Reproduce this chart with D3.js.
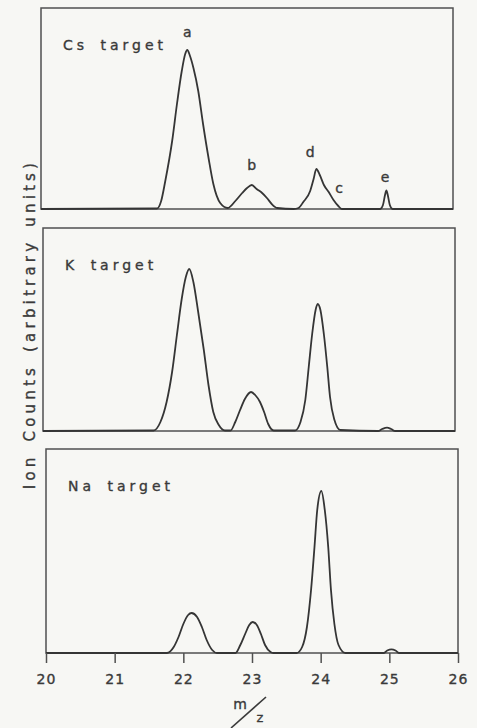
<!DOCTYPE html>
<html>
<head>
<meta charset="utf-8">
<script src="https://cdn.jsdelivr.net/npm/d3@7"></script>
<style>
  html, body { margin: 0; padding: 0; background: #f7f7f4; }
  svg { display: block; }
  .box { fill: none; stroke: #505050; stroke-width: 1.5; }
  .trace { fill: none; stroke: #353535; stroke-width: 1.8; stroke-linejoin: round; }
  text { font-family: "DejaVu Sans", sans-serif; fill: #3a3a3a; stroke: #3a3a3a; stroke-width: 0.35; }
  .axis line { stroke: #505050; stroke-width: 1.5; }
</style>
</head>
<body>
<div id="chart"></div>
<script>
// tick values on the m/z axis
const tickValues = [20, 21, 22, 23, 24, 25, 26];

// panel names, top to bottom
const targets = ["Cs target", "K target", "Na target"];

// Cs target spectrum (m/z, counts)
const csMz =     [20, 21.69, 21.75, 21.81, 21.91, 21.98, 22.05, 22.10, 22.13, 22.17, 22.22, 22.29, 22.36, 22.44, 22.51, 22.61, 22.72, 22.83, 22.93, 23.00, 23.07, 23.14, 23.22, 23.29, 23.36, 23.44, 23.68, 23.75, 23.82, 23.92, 23.97, 24.01, 24.06, 24.12, 24.19, 24.26, 24.33, 24.38, 24.94, 24.98, 25.01, 25.03, 25.05, 25.08, 25.12, 26];
const csCounts = [0,  0.5,   8,     28,    68,    105,   138,   155,   159,   153,   141,   118,   85,    51,    25,    6,     1,     8,     16,    21,    24,    20,    16,    11,    5,     1,     0,     1,     7,     18,    30,    40,    34,    24,    17,    9,     3,     0,     0,     4,     14,    18.5,  14,    4,     0,     0];

// K target spectrum
const kMz =     [20, 21.61, 21.71, 21.80, 21.88, 21.95, 22.02, 22.08, 22.13, 22.19, 22.26, 22.34, 22.41, 22.48, 22.56, 22.65, 22.73, 22.80, 22.87, 22.94, 23.03, 23.09, 23.16, 23.22, 23.28, 23.36, 23.67, 23.75, 23.82, 23.87, 23.92, 23.97, 24.00, 24.04, 24.09, 24.14, 24.18, 24.24, 24.33, 24.88, 24.94, 25.01, 25.07, 25.13, 26];
const kCounts = [0,  0.5,   9,     29,    59,    96,    132,   154,   162,   149,   119,   82,    46,    19,    6,     0.5,   0.5,   9,     21,    32,    39,    36,    29,    19,    7,     0.5,   0.5,   9,     31,    64,    97,    121,   127,   121,   97,    64,    34,    12,    1,     0,     2,     3.3,   2,     0,     0];

// Na target spectrum
const naMz =     [20, 21.76, 21.86, 21.93, 22.00, 22.07, 22.12, 22.20, 22.27, 22.34, 22.42, 22.49, 22.76, 22.83, 22.90, 22.96, 23.01, 23.07, 23.13, 23.19, 23.27, 23.31, 23.65, 23.73, 23.80, 23.86, 23.91, 23.95, 24.01, 24.06, 24.11, 24.15, 24.20, 24.26, 24.36, 24.92, 24.97, 25.03, 25.09, 25.14, 26];
const naCounts = [0,  0,     6,     16,    29,    38,    40,    36,    26,    13,    3,     0,     0,     8,     19,    28,    31,    28,    19,    8,     1,     0,     0,     6,     26,    63,    106,   143,   162,   143,   106,   63,    29,    8,     0,     0,     2.5,   3.7,   2.5,   0,     0];

// peak letters on the Cs panel, with m/z and count where each letter sits
const peakLetters = ["a", "b", "d", "c", "e"];
const peakMz =      [22.13, 23.07, 23.92, 24.34, 25.01];
const peakCounts =  [172, 39, 52, 16, 27];

// layout (the scan is slightly skewed, so each panel has its own left edge)
const width = 477, height = 728;
const plotWidth = 412;
const panelTop = [8, 228, 449];
const panelBase = [209, 431, 653];
const panelLeft = [41, 43, 46];

const series = [
    d3.zip(csMz, csCounts),
    d3.zip(kMz, kCounts),
    d3.zip(naMz, naCounts)
];

const svg = d3.select("#chart")
    .append("svg")
    .attr("width", width)
    .attr("height", height);

const x = d3.scaleLinear().domain([20, 26]).range([0, plotWidth]);

series.forEach(function(data, i) {
    const g = svg.append("g")
        .attr("transform", "translate(" + panelLeft[i] + ",0)");
    const y = d3.scaleLinear().domain([0, 200])
        .range([panelBase[i], panelBase[i] - 200]);

    // frame
    g.append("rect")
        .attr("class", "box")
        .attr("x", 0)
        .attr("y", panelTop[i])
        .attr("width", plotWidth)
        .attr("height", panelBase[i] - panelTop[i]);

    // spectrum
    const line = d3.line()
        .x(d => x(d[0]))
        .y(d => y(d[1]))
        .curve(d3.curveMonotoneX);
    g.append("path")
        .attr("class", "trace")
        .attr("d", line(data));

    // panel name
    g.append("text")
        .attr("x", 22)
        .attr("y", panelTop[i] + 42)
        .attr("font-size", 14)
        .attr("letter-spacing", 4)
        .attr("word-spacing", 4)
        .text(targets[i]);

    // peak letters on the first panel
    if (i === 0) {
        g.selectAll(".peak")
            .data(peakLetters)
            .enter()
            .append("text")
            .attr("class", "peak")
            .attr("x", (d, j) => x(peakMz[j]))
            .attr("y", (d, j) => y(peakCounts[j]))
            .attr("text-anchor", "middle")
            .attr("font-size", 14)
            .text(d => d);
    }

    // m/z axis on the bottom panel only
    if (i === series.length - 1) {
        const axis = g.append("g")
            .attr("class", "axis")
            .attr("transform", "translate(0," + panelBase[i] + ")")
            .call(d3.axisBottom(x)
                .tickValues(tickValues)
                .tickSize(10)
                .tickPadding(11)
                .tickFormat(d3.format("d")));
        axis.select(".domain").remove();
        axis.selectAll("text")
            .attr("font-size", 14)
            .attr("letter-spacing", 1)
            .attr("font-family", "DejaVu Sans, sans-serif")
            .attr("fill", "#3a3a3a");
    }
});

// y label
svg.append("text")
    .attr("transform", "translate(35,324) rotate(-90)")
    .attr("text-anchor", "middle")
    .attr("font-size", 15)
    .attr("letter-spacing", 4.2)
    .attr("word-spacing", 3)
    .text("Ion Counts (arbitrary units)");

// m/z label, written as m over z with a slash
svg.append("text")
    .attr("x", 240).attr("y", 709)
    .attr("text-anchor", "middle")
    .attr("font-size", 14)
    .text("m");
svg.append("text")
    .attr("x", 260).attr("y", 722)
    .attr("text-anchor", "middle")
    .attr("font-size", 13)
    .text("z");
svg.append("line")
    .attr("x1", 231).attr("y1", 728)
    .attr("x2", 266).attr("y2", 697)
    .attr("stroke", "#3a3a3a")
    .attr("stroke-width", 1.6);
</script>
</body>
</html>
